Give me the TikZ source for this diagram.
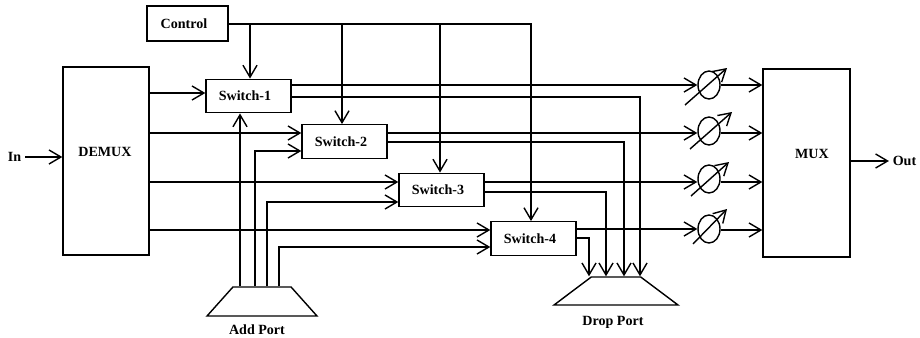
\documentclass[tikz,border=0pt]{standalone}
\usepackage{fontspec}
\setmainfont{Liberation Serif}
\usetikzlibrary{arrows.meta,shapes.geometric}

\begin{document}
\begin{tikzpicture}[x=0.02cm,y=-0.02cm,
    >={Straight Barb[length=6.8pt,width=8pt]},
    every node/.style={font=\fontsize{8}{10}\selectfont\bfseries},
    block/.style={rectangle, draw, thick, inner sep=0pt},
    switchbox/.style={block, minimum width=1.7cm, minimum height=0.67cm},
    attenuator/.style={ellipse, draw, thick, inner sep=0pt, minimum width=0.44cm, minimum height=0.56cm},
    port/.style={trapezium, trapezium stretches=true, draw, thick, inner sep=2pt},
    caption/.style={inner sep=2pt},
    wire/.style={thick}]
   \useasboundingbox (0,0) rectangle (920,338);

   \node[block, minimum width=1.62cm, minimum height=0.7cm] (Control) at (187.5,23.5) {Control\kern0.14cm};
   \node[block, minimum width=1.72cm, minimum height=3.76cm] (DEMUX) at (106,161) {};
   \node[block, minimum width=1.74cm, minimum height=3.76cm] (MUX) at (806.5,163) {};
   \node[caption] (DEMUXtext) at (105,152) {DEMUX};
   \node[caption] (MUXtext) at (812,154) {MUX};

   \node[switchbox] (SwitchOne) at (248.5,96) {Switch-1\kern0.14cm};
   \node[switchbox] (SwitchTwo) at (344.5,141.5) {Switch-2\kern0.14cm};
   \node[switchbox] (SwitchThree) at (441.5,190) {Switch-3\kern0.14cm};
   \node[switchbox] (SwitchFour) at (533.5,238.5) {Switch-4\kern0.14cm};

   \node[attenuator] (AttOne) at (709,85) {};
   \node[attenuator] (AttTwo) at (709,131) {};
   \node[attenuator] (AttThree) at (709,179) {};
   \node[attenuator] (AttFour) at (709,229) {};

   \node[port, trapezium left angle=66, trapezium right angle=66, minimum width=2.2cm, minimum height=0.58cm] (AddPort) at (262,301.5) {};
   \node[port, trapezium left angle=53, trapezium right angle=53, minimum width=2.48cm, minimum height=0.56cm] (DropPort) at (616,291) {};

   \node[caption] (In) at (14.5,157) {In};
   \node[caption] (Out) at (904.5,161) {Out};
   \node[caption] (AddText) at (257,330) {Add Port};
   \node[caption] (DropText) at (613,322) {Drop Port};

   % input and output
   \draw[wire,->] (In) to (DEMUX.west |- In);
   \draw[wire,->] (MUX.east |- Out) to (Out);

   % demux to switches
   \draw[wire,->] (DEMUX.east |- 0,93) to (SwitchOne.west |- 0,93);
   \draw[wire,->] (DEMUX.east |- 0,133) to (SwitchTwo.west |- 0,133);
   \draw[wire,->] (DEMUX.east |- 0,182) to (SwitchThree.west |- 0,182);
   \draw[wire,->] (DEMUX.east |- 0,230) to (SwitchFour.west |- 0,230);

   % control lines
   \draw[wire,->] (Control.east |- 0,24) -| (SwitchFour.north -| 531,0);
   \draw[wire,->] (Control.east -| 250,0) to (SwitchOne.north -| 250,0);
   \draw[wire,->] (Control.east -| 342,0) to (SwitchTwo.north -| 342,0);
   \draw[wire,->] (Control.east -| 440,0) to (SwitchThree.north -| 440,0);

   % add port
   \draw[wire,->] (AddPort.north -| 240,0) to (SwitchOne.south -| 240,0);
   \draw[wire,->] (AddPort.north -| 255,0) |- (SwitchTwo.west |- 0,151);
   \draw[wire,->] (AddPort.north -| 267,0) |- (SwitchThree.west |- 0,202);
   \draw[wire,->] (AddPort.north -| 279,0) |- (SwitchFour.west |- 0,247);

   % drop port
   \draw[wire,->] (SwitchOne.east |- 0,97) -| (DropPort.north -| 640,0);
   \draw[wire,->] (SwitchTwo.east |- 0,142) -| (DropPort.north -| 624,0);
   \draw[wire,->] (SwitchThree.east |- 0,192) -| (DropPort.north -| 606,0);
   \draw[wire,->] (SwitchFour.east |- 0,238) -| (DropPort.north -| 589,0);

   % through paths
   \draw[wire,->] (SwitchOne.east |- 0,85) to (AttOne.west |- 0,85);
   \draw[wire,->] (SwitchTwo.east |- 0,133) to (AttTwo.west |- 0,133);
   \draw[wire,->] (SwitchThree.east |- 0,182) to (AttThree.west |- 0,182);
   \draw[wire,->] (SwitchFour.east |- 0,229) to (AttFour.west |- 0,229);
   \draw[wire,->] (AttOne.east |- 0,85) to (MUX.west |- 0,85);
   \draw[wire,->] (AttTwo.east |- 0,133) to (MUX.west |- 0,133);
   \draw[wire,->] (AttThree.east |- 0,182) to (MUX.west |- 0,182);
   \draw[wire,->] (AttFour.east |- 0,230) to (MUX.west |- 0,230);

   % tuning arrows
   \coordinate (TuneOneA) at (685,105);
   \coordinate (TuneOneB) at (727,68);
   \coordinate (TuneTwoA) at (690,149);
   \coordinate (TuneTwoB) at (732,112);
   \coordinate (TuneThreeA) at (691,196);
   \coordinate (TuneThreeB) at (729,162);
   \coordinate (TuneFourA) at (693,244);
   \coordinate (TuneFourB) at (727,209);
   \draw[wire,->] (TuneOneA) to (TuneOneB);
   \draw[wire,->] (TuneTwoA) to (TuneTwoB);
   \draw[wire,->] (TuneThreeA) to (TuneThreeB);
   \draw[wire,->] (TuneFourA) to (TuneFourB);
\end{tikzpicture}
\end{document}
